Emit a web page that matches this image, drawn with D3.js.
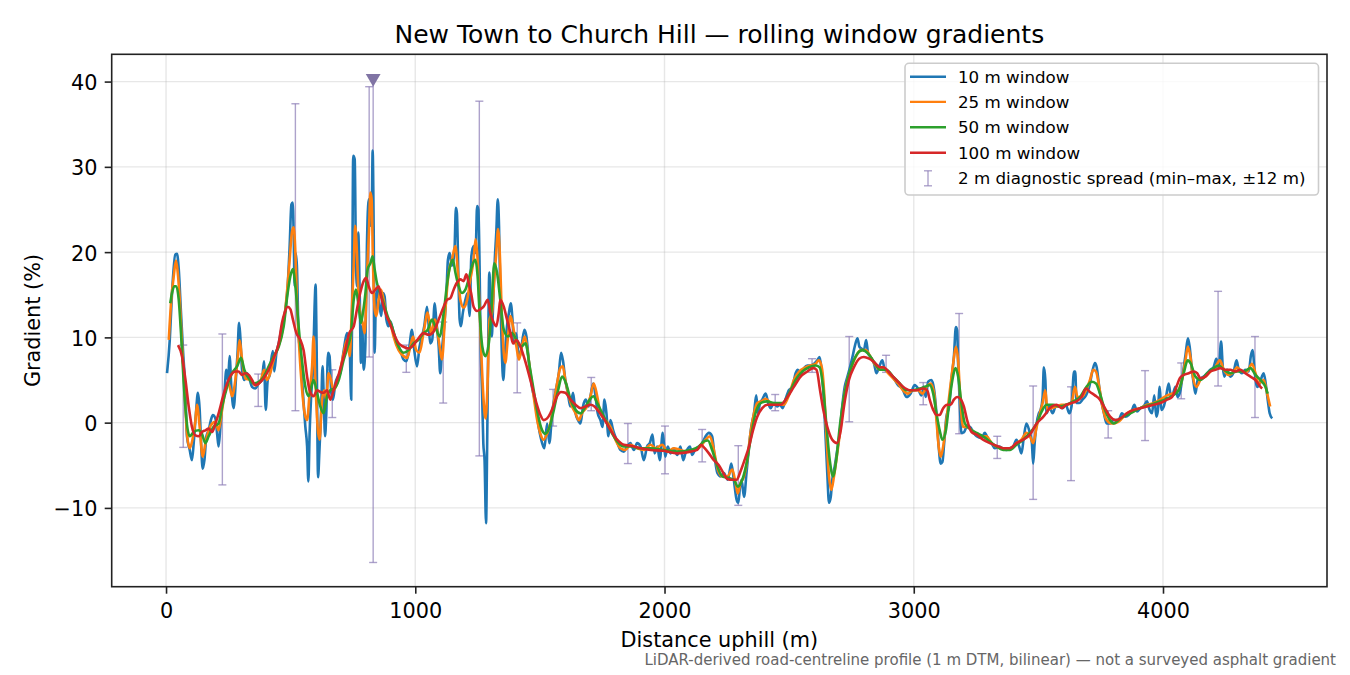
<!DOCTYPE html>
<html>
<head>
<meta charset="utf-8">
<script src="https://cdn.jsdelivr.net/npm/d3@7"></script>
<style>
body { margin: 0; background: #fff; }
svg { display: block; font-family: "DejaVu Sans", sans-serif; }
</style>
</head>
<body>
<svg width="1350" height="675"></svg>
<script>
// gradient readings [distance m, gradient %] for each window size
const win10 = [[4,5.8],[15,9.7],[24,15.2],[37,19.7],[44,19.8],[51,18.0],[60,12.9],[68,8.5],[78,3.5],[84,-1.6],[95,-3.2],[104,-4.4],[111,-2.4],[120,1.1],[128,3.5],[135,1.5],[140,-2.0],[147,-5.4],[154,-4.4],[162,-1.6],[171,-0.9],[180,0.3],[188,0.9],[198,0.5],[205,-1.3],[211,-2.8],[218,-0.5],[225,1.9],[234,3.5],[242,6.2],[249,5.0],[255,7.8],[262,4.2],[271,1.7],[281,5.4],[287,8.2],[293,11.7],[298,10.1],[305,6.2],[314,5.0],[325,5.8],[336,5.0],[345,4.2],[358,4.0],[372,4.6],[385,5.0],[393,7.2],[400,1.5],[408,5.0],[416,5.6],[422,7.4],[429,8.4],[434,6.0],[443,8.2],[452,9.3],[465,11.3],[479,13.3],[488,16.0],[496,20.7],[503,25.6],[508,25.8],[512,22.3],[516,16.0],[520,19.9],[525,18.4],[532,10.1],[539,8.2],[545,5.4],[552,2.3],[559,-0.5],[566,-2.8],[571,-6.9],[576,-1.3],[583,3.5],[590,6.6],[596,13.6],[600,16.2],[604,9.3],[610,-6.4],[615,-3.6],[622,1.1],[628,6.6],[632,3.8],[638,-1.6],[643,1.1],[650,8.2],[656,7.8],[663,3.5],[670,2.7],[679,4.6],[689,5.4],[699,5.8],[713,8.5],[726,10.5],[737,8.5],[743,2.7],[747,15.2],[751,31.3],[757,30.9],[762,19.1],[766,16.0],[771,22.3],[777,15.2],[782,7.0],[787,11.3],[793,6.2],[800,9.3],[806,20.7],[813,26.2],[820,23.1],[825,23.8],[829,31.9],[833,23.1],[837,8.2],[842,14.4],[849,15.6],[857,13.6],[864,12.5],[870,15.2],[877,14.8],[884,12.1],[893,11.3],[900,11.9],[913,10.5],[926,9.3],[940,8.5],[953,7.4],[964,7.2],[973,8.2],[987,10.9],[996,8.5],[1007,6.6],[1017,8.9],[1027,10.1],[1036,11.3],[1047,13.6],[1054,11.3],[1060,9.3],[1068,9.7],[1078,14.0],[1084,12.1],[1094,8.9],[1100,5.8],[1107,8.5],[1116,11.3],[1125,15.2],[1131,19.1],[1138,19.9],[1147,18.4],[1157,19.9],[1163,25.2],[1167,24.6],[1173,17.2],[1178,12.1],[1183,11.3],[1191,12.9],[1201,14.4],[1210,15.2],[1218,12.5],[1225,19.5],[1234,20.7],[1242,19.9],[1248,25.4],[1253,25.0],[1258,18.4],[1262,9.7],[1268,3.5],[1273,-2.4],[1278,-4.4],[1284,-11.8],[1288,-3.6],[1292,7.4],[1297,17.6],[1301,15.2],[1307,10.1],[1312,13.6],[1319,19.1],[1325,22.3],[1331,26.2],[1336,23.1],[1341,15.2],[1347,8.5],[1353,5.0],[1360,8.2],[1368,11.3],[1376,12.9],[1383,14.0],[1390,12.1],[1396,9.3],[1404,10.5],[1412,8.5],[1420,7.8],[1428,9.3],[1438,10.9],[1446,10.1],[1455,7.4],[1468,4.2],[1482,2.3],[1495,-0.5],[1509,-2.4],[1518,-3.0],[1529,-0.1],[1538,-2.4],[1549,1.1],[1562,3.5],[1576,5.8],[1585,8.2],[1593,7.2],[1602,5.0],[1612,3.5],[1622,1.9],[1633,3.5],[1643,1.1],[1653,0.3],[1663,-0.1],[1673,1.9],[1684,2.7],[1695,1.9],[1703,3.1],[1714,4.6],[1723,3.1],[1732,1.1],[1743,0.3],[1751,-0.5],[1759,2.7],[1767,1.1],[1775,-1.6],[1783,0.3],[1794,-0.9],[1807,-2.0],[1823,-3.2],[1837,-3.4],[1850,-2.8],[1863,-2.4],[1877,-3.2],[1890,-2.4],[1904,-2.8],[1917,-4.4],[1930,-2.8],[1941,-2.4],[1952,-1.4],[1960,-3.6],[1971,-2.8],[1981,-4.4],[1993,-1.2],[2003,-4.0],[2013,-2.8],[2024,-3.6],[2037,-3.0],[2051,-3.8],[2064,-2.8],[2075,-4.4],[2084,-3.6],[2102,-2.8],[2111,-3.8],[2122,-3.2],[2138,-2.8],[2151,-2.4],[2165,-1.6],[2178,-1.2],[2191,-1.6],[2201,-4.0],[2212,-5.9],[2225,-6.3],[2238,-5.9],[2254,-6.7],[2268,-4.8],[2278,-6.7],[2289,-9.0],[2296,-9.4],[2303,-7.5],[2309,-6.7],[2319,-8.7],[2329,-5.9],[2339,-2.8],[2348,-0.5],[2359,1.1],[2368,3.2],[2375,1.1],[2383,2.3],[2392,2.7],[2406,3.4],[2416,2.3],[2426,1.7],[2439,2.3],[2452,1.9],[2463,2.1],[2474,1.7],[2486,2.8],[2499,3.8],[2513,4.2],[2526,5.8],[2535,6.2],[2546,5.6],[2560,6.4],[2573,6.7],[2586,6.7],[2600,6.9],[2613,7.3],[2622,7.7],[2629,6.5],[2637,3.8],[2645,-0.9],[2653,-5.9],[2660,-9.4],[2667,-8.7],[2673,-6.7],[2683,-5.1],[2693,-3.2],[2704,-0.9],[2713,1.9],[2723,4.2],[2734,5.4],[2744,6.5],[2754,7.7],[2763,8.9],[2774,9.9],[2782,8.9],[2790,8.7],[2800,8.5],[2809,9.7],[2817,8.1],[2827,7.7],[2841,6.9],[2850,5.8],[2863,6.7],[2874,7.3],[2884,6.2],[2897,6.0],[2910,5.6],[2924,5.0],[2937,4.4],[2954,4.0],[2971,3.0],[2987,3.4],[3004,4.4],[3017,4.0],[3031,3.2],[3040,4.2],[3048,3.0],[3058,4.8],[3071,5.0],[3082,3.8],[3091,1.1],[3100,-2.8],[3108,-4.8],[3115,-4.6],[3122,-2.4],[3131,0.7],[3142,1.9],[3151,5.0],[3161,7.7],[3169,11.2],[3174,10.8],[3178,6.9],[3185,1.9],[3191,-1.2],[3202,-1.1],[3212,-0.5],[3225,-0.5],[3238,-1.1],[3252,-1.6],[3272,-1.8],[3285,-1.2],[3299,-2.0],[3312,-2.4],[3325,-3.0],[3343,-2.8],[3356,-3.0],[3372,-3.2],[3386,-3.0],[3399,-2.8],[3412,-2.0],[3423,-2.8],[3432,-3.6],[3442,-1.6],[3452,-0.1],[3463,-0.9],[3474,-2.4],[3479,-4.8],[3485,-2.4],[3493,-0.1],[3502,1.1],[3509,1.5],[3517,3.0],[3522,6.5],[3528,5.0],[3533,1.1],[3544,1.9],[3557,1.1],[3570,1.9],[3584,1.9],[3597,1.7],[3610,2.1],[3624,1.1],[3633,1.9],[3643,6.0],[3648,6.0],[3653,2.3],[3664,2.3],[3677,2.7],[3691,3.2],[3704,4.2],[3718,6.2],[3727,7.0],[3734,6.5],[3744,4.2],[3754,2.3],[3763,1.1],[3774,-0.1],[3787,-0.1],[3801,0.3],[3822,0.3],[3835,1.1],[3849,0.7],[3862,0.9],[3876,1.5],[3885,2.1],[3896,1.3],[3909,1.7],[3922,1.9],[3936,2.5],[3946,1.5],[3956,1.1],[3965,3.2],[3973,0.7],[3979,1.3],[3987,4.2],[3993,1.5],[4003,1.9],[4012,3.0],[4023,4.6],[4032,3.0],[4040,3.4],[4050,4.2],[4059,3.0],[4070,3.8],[4080,5.8],[4091,8.1],[4100,9.9],[4107,8.9],[4116,6.2],[4123,4.6],[4130,3.4],[4139,5.0],[4150,5.2],[4163,5.4],[4177,5.8],[4190,6.2],[4203,6.5],[4214,7.5],[4224,6.4],[4233,9.5],[4240,6.5],[4246,5.4],[4257,6.2],[4270,5.4],[4284,6.0],[4295,7.3],[4304,6.2],[4317,5.8],[4330,6.2],[4344,6.0],[4353,7.9],[4360,8.5],[4367,6.2],[4378,4.2],[4388,4.6],[4397,5.4],[4404,5.8],[4412,4.6],[4420,2.7],[4428,1.1],[4438,0.5]];

const win25 = [[11,9.7],[21,14.4],[31,17.2],[40,19.0],[47,17.6],[55,14.4],[64,9.3],[75,3.5],[84,-1.3],[95,-3.0],[106,-2.0],[118,0.3],[124,2.1],[135,-0.5],[147,-4.0],[158,-2.4],[171,-0.9],[185,-0.1],[198,0.1],[211,-0.9],[225,1.5],[238,3.8],[251,4.6],[265,3.1],[278,5.0],[287,7.4],[295,9.7],[305,7.4],[318,5.2],[338,5.0],[358,4.4],[378,4.8],[394,6.2],[405,5.0],[418,5.8],[432,7.4],[445,8.5],[459,9.7],[472,11.7],[485,15.2],[496,19.1],[505,22.3],[512,22.9],[519,19.9],[525,14.4],[535,8.5],[545,4.2],[556,1.1],[566,0.3],[576,3.5],[586,6.6],[592,10.1],[599,5.0],[608,-0.5],[616,-2.0],[626,2.7],[635,3.8],[643,2.7],[652,5.8],[662,5.0],[672,3.8],[686,4.6],[699,6.2],[713,8.2],[726,9.7],[737,7.8],[745,12.9],[753,18.4],[759,23.1],[766,19.9],[773,14.4],[779,12.9],[789,11.7],[797,10.5],[806,17.2],[814,22.3],[820,27.0],[825,26.2],[830,19.1],[837,13.3],[844,12.5],[853,14.4],[862,15.6],[873,14.4],[886,12.5],[900,11.7],[913,10.1],[933,8.5],[953,7.8],[967,7.6],[980,8.9],[991,10.1],[1004,8.5],[1017,8.2],[1033,10.5],[1050,12.9],[1063,10.5],[1078,12.1],[1094,9.7],[1107,7.4],[1121,13.3],[1134,17.6],[1147,19.1],[1161,20.7],[1171,17.6],[1181,14.4],[1194,13.5],[1208,14.4],[1221,16.8],[1234,19.1],[1242,21.5],[1250,19.1],[1258,13.3],[1266,7.4],[1274,2.7],[1282,0.5],[1291,5.4],[1298,12.1],[1308,12.9],[1317,16.8],[1325,19.9],[1332,22.7],[1339,19.9],[1347,12.9],[1355,8.2],[1361,7.0],[1371,9.7],[1382,12.5],[1392,11.3],[1406,8.9],[1416,7.4],[1428,8.9],[1439,10.1],[1448,8.9],[1462,5.8],[1475,3.1],[1489,0.3],[1502,-1.3],[1515,-2.0],[1529,-1.3],[1542,-0.1],[1556,2.3],[1569,4.6],[1582,6.4],[1592,6.6],[1602,5.0],[1616,3.1],[1629,1.9],[1643,1.1],[1656,0.3],[1669,1.1],[1689,1.9],[1703,3.1],[1716,4.6],[1730,3.1],[1743,1.1],[1763,0.3],[1783,-0.5],[1803,-2.0],[1823,-3.0],[1843,-3.2],[1863,-2.6],[1890,-3.0],[1917,-3.2],[1944,-2.6],[1964,-3.0],[1991,-2.6],[2011,-3.4],[2037,-3.0],[2064,-3.2],[2091,-3.4],[2118,-3.2],[2145,-2.8],[2165,-2.0],[2182,-1.6],[2198,-3.2],[2214,-5.5],[2232,-6.3],[2252,-6.3],[2272,-5.5],[2285,-7.1],[2294,-8.3],[2305,-7.1],[2319,-6.3],[2332,-4.4],[2345,-1.2],[2359,1.1],[2372,2.3],[2388,2.5],[2406,2.8],[2426,2.3],[2452,2.1],[2479,2.1],[2499,3.2],[2519,5.0],[2540,6.0],[2560,6.4],[2586,6.7],[2606,6.9],[2619,7.3],[2631,6.5],[2640,3.8],[2649,-1.2],[2660,-6.3],[2669,-7.9],[2680,-6.3],[2693,-3.6],[2707,-0.5],[2720,3.0],[2734,5.0],[2750,6.5],[2767,7.7],[2787,8.5],[2807,8.5],[2827,7.7],[2847,6.7],[2865,6.2],[2877,6.5],[2897,5.8],[2917,5.2],[2937,4.6],[2957,3.8],[2977,3.4],[2997,3.8],[3017,3.8],[3035,3.4],[3051,4.2],[3068,4.6],[3082,3.4],[3091,0.3],[3100,-2.8],[3108,-4.0],[3118,-2.8],[3131,0.3],[3145,3.8],[3158,6.9],[3169,8.9],[3178,7.3],[3187,2.7],[3198,-0.5],[3212,-0.5],[3232,-0.9],[3252,-1.4],[3272,-1.6],[3292,-1.6],[3312,-2.4],[3332,-2.8],[3359,-3.0],[3386,-3.0],[3412,-2.4],[3432,-2.0],[3452,-1.2],[3466,-1.6],[3479,-2.4],[3493,-0.5],[3506,1.1],[3517,2.3],[3528,3.8],[3536,1.5],[3553,1.7],[3573,1.9],[3593,2.1],[3613,2.1],[3633,2.3],[3647,4.2],[3657,3.0],[3673,3.0],[3691,3.8],[3707,5.0],[3720,6.2],[3731,6.0],[3744,4.2],[3757,1.9],[3774,0.3],[3794,-0.1],[3821,0.1],[3855,1.1],[3882,1.5],[3909,1.7],[3936,2.1],[3963,2.3],[3989,2.7],[4016,3.2],[4036,3.4],[4056,3.6],[4076,5.0],[4090,7.3],[4100,8.9],[4110,7.7],[4120,5.4],[4134,4.2],[4150,5.0],[4170,5.4],[4190,6.0],[4210,6.5],[4228,7.3],[4244,6.2],[4264,5.6],[4284,6.0],[4297,6.5],[4317,6.0],[4337,6.0],[4357,6.9],[4371,5.8],[4384,4.6],[4404,5.0],[4418,3.4],[4430,1.9]];

const win50 = [[17,14.0],[24,15.2],[33,16.0],[41,16.0],[51,14.4],[60,10.5],[71,4.6],[82,0.3],[95,-1.6],[111,-1.1],[131,-0.9],[144,-1.3],[158,-2.4],[171,-1.6],[191,-0.5],[211,-0.1],[225,1.9],[245,4.2],[265,5.8],[285,6.6],[301,7.6],[314,6.2],[332,5.2],[352,4.6],[372,4.8],[392,5.4],[412,6.6],[432,7.8],[452,8.9],[472,11.3],[488,15.2],[499,17.2],[509,18.0],[519,16.0],[532,11.3],[545,7.4],[559,4.2],[572,3.1],[583,4.2],[592,5.0],[606,3.5],[619,1.9],[632,1.1],[646,3.1],[659,3.8],[675,4.0],[693,5.0],[713,7.4],[729,8.9],[742,10.5],[753,14.4],[762,15.6],[773,13.6],[782,11.7],[790,12.9],[800,15.2],[809,18.0],[820,18.7],[829,19.5],[837,18.0],[846,16.4],[860,15.2],[873,14.0],[889,12.5],[906,11.3],[927,9.3],[953,8.2],[973,8.5],[993,9.3],[1013,9.7],[1033,10.5],[1050,10.9],[1067,12.1],[1080,11.3],[1098,10.1],[1114,12.9],[1130,16.8],[1143,18.7],[1151,19.1],[1161,17.6],[1174,16.0],[1187,15.2],[1201,15.6],[1214,16.8],[1228,18.4],[1241,19.1],[1250,17.2],[1258,12.9],[1269,8.9],[1281,7.8],[1295,9.3],[1305,12.9],[1317,18.7],[1328,17.6],[1341,14.4],[1355,10.9],[1371,10.1],[1388,10.5],[1406,9.7],[1424,8.9],[1442,9.3],[1459,6.6],[1475,3.8],[1491,1.1],[1509,-0.9],[1522,-1.3],[1539,-0.5],[1556,1.5],[1573,3.8],[1589,5.4],[1605,4.6],[1623,2.7],[1643,1.5],[1663,1.1],[1683,1.9],[1700,2.7],[1714,3.1],[1730,2.3],[1750,1.1],[1770,-0.1],[1790,-1.3],[1810,-2.2],[1837,-2.8],[1863,-2.8],[1904,-3.0],[1944,-3.0],[1997,-3.2],[2051,-3.4],[2104,-3.2],[2138,-2.8],[2158,-2.2],[2174,-2.1],[2191,-3.2],[2212,-5.1],[2232,-6.3],[2259,-6.5],[2278,-6.7],[2294,-7.5],[2312,-6.7],[2329,-4.8],[2345,-2.0],[2365,1.1],[2386,2.3],[2412,2.5],[2439,2.3],[2473,2.3],[2499,3.4],[2526,5.0],[2553,6.0],[2580,6.5],[2606,6.7],[2622,6.5],[2636,4.2],[2649,-0.1],[2663,-4.4],[2676,-6.3],[2689,-4.4],[2703,-0.5],[2718,2.7],[2734,5.0],[2754,6.9],[2774,8.1],[2794,8.5],[2817,8.1],[2841,7.1],[2865,6.2],[2890,6.2],[2917,5.4],[2944,4.6],[2971,3.8],[2997,3.8],[3024,4.0],[3044,4.2],[3064,4.4],[3078,3.4],[3091,1.1],[3104,-0.9],[3115,-2.0],[3129,-0.9],[3142,2.3],[3155,5.0],[3167,6.4],[3178,5.4],[3191,2.3],[3205,-0.1],[3225,-0.7],[3252,-1.2],[3278,-1.6],[3305,-2.2],[3332,-2.8],[3359,-3.2],[3386,-3.2],[3412,-2.6],[3439,-2.0],[3466,-1.2],[3493,-0.1],[3513,1.3],[3533,2.1],[3560,2.1],[3586,1.9],[3613,2.1],[3640,2.5],[3667,3.0],[3693,4.2],[3714,4.8],[3731,4.6],[3747,3.4],[3767,1.5],[3787,0.3],[3802,-0.1],[3829,0.5],[3869,1.1],[3909,1.7],[3949,2.1],[3989,2.5],[4029,3.0],[4063,3.8],[4083,5.8],[4099,7.3],[4112,6.9],[4130,5.4],[4150,5.0],[4177,5.8],[4203,6.4],[4224,6.7],[4244,6.2],[4270,5.8],[4297,6.0],[4324,6.0],[4351,6.4],[4371,5.6],[4391,5.0],[4411,4.2],[4420,3.4]];

const win100 = [[48,9.1],[64,7.8],[78,5.0],[91,1.9],[104,-0.5],[118,-1.5],[131,-1.6],[144,-1.1],[158,-0.9],[171,-0.7],[185,-1.1],[198,-0.1],[211,1.1],[229,3.1],[245,4.6],[261,5.6],[278,6.0],[291,6.0],[305,5.6],[318,5.8],[332,5.6],[345,5.0],[358,4.4],[372,4.6],[392,5.2],[412,6.2],[432,7.6],[452,9.3],[465,11.7],[476,12.9],[488,13.6],[499,13.3],[509,12.1],[523,10.5],[539,9.7],[552,8.5],[566,5.4],[576,3.8],[592,3.1],[606,3.8],[619,3.6],[632,3.5],[646,3.8],[659,2.7],[672,3.8],[686,5.0],[702,6.6],[719,8.5],[735,10.5],[753,11.3],[766,13.3],[779,15.2],[793,16.6],[803,17.0],[813,16.0],[826,15.2],[840,15.6],[853,16.0],[866,14.4],[880,12.9],[897,11.7],[913,10.5],[933,9.3],[953,8.9],[973,8.7],[993,9.1],[1013,9.9],[1033,10.5],[1054,10.3],[1074,10.7],[1094,12.1],[1114,13.6],[1127,14.4],[1141,14.6],[1154,15.6],[1167,16.4],[1181,16.8],[1194,16.6],[1205,17.4],[1214,16.4],[1224,15.2],[1234,13.6],[1248,13.1],[1261,13.3],[1274,13.6],[1291,14.4],[1301,12.9],[1315,11.7],[1325,11.3],[1335,12.9],[1341,14.4],[1355,13.6],[1368,12.1],[1382,10.5],[1392,9.3],[1406,9.7],[1422,8.9],[1435,7.8],[1451,6.2],[1469,4.2],[1486,2.3],[1502,0.9],[1515,0.3],[1529,0.5],[1542,1.1],[1556,2.1],[1569,3.1],[1585,3.6],[1602,3.5],[1623,2.7],[1643,2.1],[1663,1.7],[1683,1.9],[1703,2.1],[1719,1.9],[1736,1.3],[1756,0.5],[1776,-0.5],[1797,-1.5],[1817,-2.2],[1837,-2.6],[1863,-2.7],[1904,-3.0],[1944,-3.2],[1997,-3.3],[2051,-3.6],[2104,-3.4],[2131,-3.2],[2147,-2.6],[2161,-3.0],[2178,-3.6],[2198,-4.4],[2218,-5.0],[2236,-5.9],[2252,-6.6],[2272,-6.7],[2289,-6.7],[2305,-5.7],[2321,-4.4],[2339,-2.8],[2355,-0.9],[2372,0.7],[2392,1.7],[2412,2.1],[2439,2.1],[2466,2.1],[2493,3.0],[2519,4.2],[2546,5.4],[2573,6.0],[2597,6.4],[2610,6.2],[2624,3.8],[2637,1.5],[2653,-0.5],[2673,-2.0],[2693,-2.4],[2707,-0.9],[2720,1.9],[2740,5.0],[2760,6.5],[2781,7.5],[2800,7.7],[2821,7.5],[2841,7.1],[2865,6.5],[2877,6.5],[2904,5.8],[2930,5.0],[2957,4.2],[2984,3.8],[3011,3.8],[3037,4.0],[3054,3.8],[3064,2.7],[3078,1.5],[3091,0.9],[3104,0.9],[3118,1.7],[3134,2.1],[3148,2.1],[3161,2.7],[3174,3.0],[3187,2.8],[3201,1.9],[3214,0.3],[3232,-1.1],[3252,-1.4],[3278,-2.0],[3305,-2.4],[3332,-2.7],[3359,-3.0],[3386,-3.0],[3412,-2.4],[3439,-2.0],[3466,-1.4],[3493,-0.1],[3520,0.7],[3546,1.7],[3573,2.1],[3593,1.7],[3613,2.1],[3633,2.3],[3653,2.5],[3673,3.0],[3691,4.0],[3707,3.6],[3727,3.2],[3747,2.7],[3767,1.7],[3788,0.7],[3809,0.3],[3829,0.5],[3855,1.1],[3882,1.5],[3909,1.7],[3936,1.9],[3963,2.1],[3989,2.3],[4016,2.7],[4036,3.0],[4054,4.2],[4067,5.2],[4083,5.6],[4103,5.8],[4123,6.0],[4137,5.8],[4150,5.2],[4170,5.4],[4190,6.0],[4210,6.2],[4230,6.4],[4250,6.2],[4270,6.2],[4290,6.0],[4310,6.2],[4330,5.8],[4351,5.4],[4371,5.0],[4391,4.2],[4398,4.0]];

// 2 m diagnostic spread, min-max within +-12 m
const spreadDist = [69, 226, 370, 519, 667, 815, 964, 1112, 1257, 1409, 1553, 1706, 1853, 2002, 2151, 2296, 2444, 2592, 2741, 2889, 3038, 3182, 3335, 3479, 3631, 3780, 3928, 4073, 4221, 4369];
const spreadLo = [-2.9, -7.3, 1.9, 1.4, 0.6, 7.7, 5.9, 2.3, -3.9, 3.5, -0.4, 1.4, -4.8, -6.0, -4.6, -9.7, 1.4, 5.9, 0.1, 5.9, 2.1, -1.3, -4.2, -9.0, -6.8, -1.8, -2.1, 2.8, 4.3, 0.6];
const spreadHi = [9.1, 10.4, 5.7, 37.4, 6.2, 39.4, 9.1, 11.8, 37.7, 11.7, 3.9, 5.3, -0.1, -0.4, -0.8, -2.7, 3.3, 7.5, 10.1, 7.9, 4.7, 12.8, -1.6, 4.3, 4.2, 1.4, 6.1, 7.0, 15.4, 10.1];

// steepest spot, flagged with a marker
const peakDist = 831, peakLo = -16.4, peakHi = 40.4;

const xTicks = [0, 1000, 2000, 3000, 4000];
const yTicks = [-10, 0, 10, 20, 30, 40];

const seriesList = [
    {label: "10 m window", data: win10, color: "#1f77b4"},
    {label: "25 m window", data: win25, color: "#ff7f0e"},
    {label: "50 m window", data: win50, color: "#2ca02c"},
    {label: "100 m window", data: win100, color: "#d62728"}
];

const svg = d3.select("svg");
svg.append("rect").attr("width", 1350).attr("height", 675).attr("fill", "#fff");

const margin = {top: 54.3, right: 23, bottom: 88.3, left: 111.7},
    width = 1350 - margin.left - margin.right,
    height = 675 - margin.top - margin.bottom;

const g = svg.append("g").attr("transform", `translate(${margin.left},${margin.top})`);

const x = d3.scaleLinear().domain([-218, 4658]).range([0, width]);
const y = d3.scaleLinear().domain([-19.24, 43.2]).range([height, 0]);

// grid
g.append("g").selectAll("line").data(xTicks).join("line")
    .attr("x1", d => x(d)).attr("x2", d => x(d))
    .attr("y1", 0).attr("y2", height)
    .attr("stroke", "#b0b0b0").attr("stroke-opacity", 0.3).attr("stroke-width", 1.4);
g.append("g").selectAll("line").data(yTicks).join("line")
    .attr("x1", 0).attr("x2", width)
    .attr("y1", d => y(d)).attr("y2", d => y(d))
    .attr("stroke", "#b0b0b0").attr("stroke-opacity", 0.3).attr("stroke-width", 1.4);

// error bars (under the lines)
const barColor = "#8a7bb5";
const cap = 4;
const bars = g.append("g").attr("stroke", barColor).attr("stroke-opacity", 0.7).attr("stroke-width", 1.4);
const spreads = spreadDist.map((d, i) => ({d: d, lo: spreadLo[i], hi: spreadHi[i]}));
spreads.push({d: peakDist, lo: peakLo, hi: peakHi});
spreads.forEach(s => {
    bars.append("line").attr("x1", x(s.d)).attr("x2", x(s.d)).attr("y1", y(s.hi)).attr("y2", y(s.lo));
    bars.append("line").attr("x1", x(s.d) - cap).attr("x2", x(s.d) + cap).attr("y1", y(s.hi)).attr("y2", y(s.hi));
    bars.append("line").attr("x1", x(s.d) - cap).attr("x2", x(s.d) + cap).attr("y1", y(s.lo)).attr("y2", y(s.lo));
});

// lines
const line = d3.line()
    .x(d => x(d[0]))
    .y(d => y(d[1]))
    .curve(d3.curveMonotoneX);

g.append("g").selectAll("path").data(seriesList).join("path")
    .attr("fill", "none")
    .attr("stroke", d => d.color)
    .attr("stroke-width", 2.6)
    .attr("stroke-linejoin", "round")
    .attr("d", d => line(d.data));

// peak marker
g.append("path")
    .attr("d", d3.symbol(d3.symbolTriangle, 95)())
    .attr("transform", `translate(${x(peakDist)},${y(peakHi)}) rotate(180)`)
    .attr("fill", "#8074a4");

// axes
const xAxis = g.append("g")
    .attr("transform", `translate(0,${height})`)
    .call(d3.axisBottom(x).tickValues(xTicks).tickFormat(d3.format("d")).tickSize(7).tickPadding(9.5));
const yAxis = g.append("g")
    .call(d3.axisLeft(y).tickValues(yTicks).tickSize(7).tickPadding(7.3));
[xAxis, yAxis].forEach(a => {
    a.select(".domain").remove();
    a.selectAll(".tick line").attr("stroke", "#222").attr("stroke-width", 1.6);
    a.selectAll(".tick text").attr("font-size", 20.8).attr("fill", "#000").attr("font-family", "DejaVu Sans");
});
yAxis.selectAll(".tick text").attr("dy", "0.38em");

// frame
g.append("rect")
    .attr("width", width).attr("height", height)
    .attr("fill", "none").attr("stroke", "#222").attr("stroke-width", 1.6);

// labels
svg.append("text")
    .attr("x", margin.left + width / 2).attr("y", 43)
    .attr("text-anchor", "middle").attr("font-size", 25)
    .text("New Town to Church Hill \u2014 rolling window gradients");

svg.append("text")
    .attr("x", margin.left + width / 2).attr("y", 647)
    .attr("text-anchor", "middle").attr("font-size", 20.8)
    .text("Distance uphill (m)");

svg.append("text")
    .attr("transform", `translate(40,${margin.top + height / 2}) rotate(-90)`)
    .attr("text-anchor", "middle").attr("font-size", 20.8)
    .text("Gradient (%)");

svg.append("text")
    .attr("x", 1336).attr("y", 665)
    .attr("text-anchor", "end").attr("font-size", 15)
    .attr("fill", "#666")
    .text("LiDAR-derived road-centreline profile (1 m DTM, bilinear) \u2014 not a surveyed asphalt gradient");

// legend
const legend = svg.append("g");
legend.append("rect")
    .attr("x", 905).attr("y", 63.3).attr("width", 413.5).attr("height", 131.7)
    .attr("rx", 4)
    .attr("fill", "#fff").attr("fill-opacity", 0.8)
    .attr("stroke", "#cccccc").attr("stroke-width", 1.6);

const rowY = [76.7, 101.9, 127.3, 152.7, 178.3];
seriesList.forEach((s, i) => {
    legend.append("line")
        .attr("x1", 910).attr("x2", 946)
        .attr("y1", rowY[i]).attr("y2", rowY[i])
        .attr("stroke", s.color).attr("stroke-width", 2.4);
    legend.append("text")
        .attr("x", 958).attr("y", rowY[i] + 6)
        .attr("font-size", 16.7)
        .text(s.label);
});
const ly = rowY[4];
const lg = legend.append("g").attr("stroke", barColor).attr("stroke-opacity", 0.7).attr("stroke-width", 1.4);
lg.append("line").attr("x1", 928).attr("x2", 928).attr("y1", ly - 7.5).attr("y2", ly + 7.5);
lg.append("line").attr("x1", 928 - cap).attr("x2", 928 + cap).attr("y1", ly - 7.5).attr("y2", ly - 7.5);
lg.append("line").attr("x1", 928 - cap).attr("x2", 928 + cap).attr("y1", ly + 7.5).attr("y2", ly + 7.5);
legend.append("text")
    .attr("x", 958).attr("y", ly + 6)
    .attr("font-size", 16.7)
    .text("2 m diagnostic spread (min\u2013max, \u00b112 m)");
</script>
</body>
</html>
